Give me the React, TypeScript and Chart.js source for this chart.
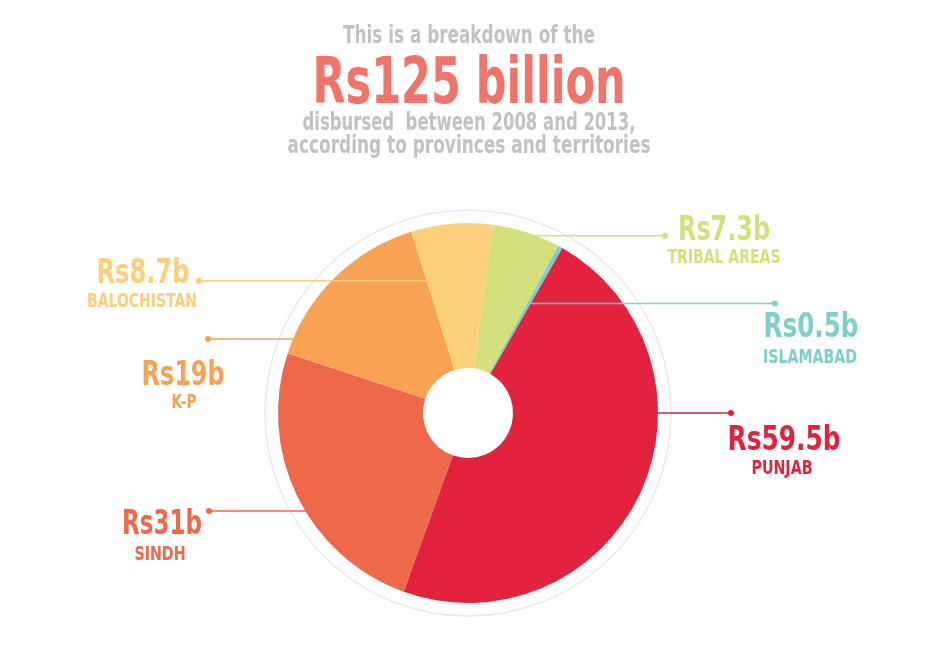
import React, { useEffect, useRef } from "react";
import { Chart, registerables } from "chart.js";

Chart.register(...registerables);

// ---- data ----
const regions = ["TRIBAL AREAS", "ISLAMABAD", "PUNJAB", "SINDH", "K-P", "BALOCHISTAN"];
const amounts = [7.3, 0.5, 59.5, 31, 19, 8.7];
const valueLabels = ["Rs7.3b", "Rs0.5b", "Rs59.5b", "Rs31b", "Rs19b", "Rs8.7b"];
const titleLines = [
  "This is a breakdown of the",
  "Rs125 billion",
  "disbursed  between 2008 and 2013,",
  "according to provinces and territories",
];

// ---- styles ----
const sliceColors = ["#D4E07C", "#7DCFC9", "#E3233E", "#EE694A", "#F7A353", "#FDD17C"];
const labelColors = ["#D4E07C", "#7ECFC9", "#E3233E", "#EE694A", "#F7A353", "#FCCF7A"];
const FONT = '"Liberation Sans Narrow", "DejaVu Sans Condensed", "Arial Narrow", sans-serif';

// ---- label layout (per slice, same order as data) ----
// anchor: fraction along the arc (t) and fraction of the radius (f)
const anchorT = [0.35, 0.5, 0.354, 0.246, 0.295, 0.47];
const anchorF = [0.965, 0.66, 0.9, 0.69, 0.69, 0.7];
const dotX = [665, 775, 731, 209, 208, 199];
const valueX = [724, 811, 784, 162, 183, 143];
const valueY = [240, 337, 450, 534, 385, 283];
const valueW = [92, 95, 113, 80, 83, 93];
const nameX = [724, 810, 782, 160, 184, 142];
const nameY = [263, 363, 474, 560, 408, 307];
const nameW = [113, 94, 61, 51, 25, 110];

const titleY = [43, 103, 130, 153];
const titleW = [252, 313, 333, 363];
const titleSize = [25, 64, 24, 24];
const titleColor = ["#C2C2C2", "#F1736A", "#C2C2C2", "#C2C2C2"];

function drawText(ctx: CanvasRenderingContext2D, text: string, x: number, y: number, size: number, color: string, width: number) {
  ctx.font = `bold ${size}px ${FONT}`;
  ctx.fillStyle = color;
  ctx.textAlign = "center";
  ctx.textBaseline = "alphabetic";
  const w = ctx.measureText(text).width;
  if (w > width) {
    ctx.save();
    ctx.translate(x, y);
    ctx.scale(width / w, 1);
    ctx.fillText(text, 0, 0);
    ctx.restore();
  } else {
    ctx.fillText(text, x, y);
  }
}

const overlayPlugin = {
  id: "overlay",
  beforeDatasetsDraw(chart: any) {
    const ctx = chart.ctx as CanvasRenderingContext2D;
    const arc = chart.getDatasetMeta(0).data[0];
    if (!arc) return;
    ctx.save();
    ctx.beginPath();
    ctx.arc(arc.x, arc.y, arc.outerRadius + 13, 0, Math.PI * 2);
    ctx.strokeStyle = "#EAEAEA";
    ctx.lineWidth = 1.5;
    ctx.stroke();
    ctx.restore();
  },
  afterDraw(chart: any) {
    const ctx = chart.ctx as CanvasRenderingContext2D;
    const meta = chart.getDatasetMeta(0);
    ctx.save();
    // titles
    titleLines.forEach((t, i) => drawText(ctx, t, 469, titleY[i], titleSize[i], titleColor[i], titleW[i]));
    meta.data.forEach((a: any, i: number) => {
      const ang = a.startAngle + anchorT[i] * (a.endAngle - a.startAngle);
      const r = a.outerRadius * anchorF[i];
      const ax = a.x + Math.cos(ang) * r;
      const ay = a.y + Math.sin(ang) * r;
      ctx.strokeStyle = labelColors[i];
      ctx.lineWidth = 1.5;
      ctx.beginPath();
      ctx.moveTo(ax, ay);
      ctx.lineTo(dotX[i], ay);
      ctx.stroke();
      ctx.fillStyle = labelColors[i];
      ctx.beginPath();
      ctx.arc(dotX[i], ay, 3, 0, Math.PI * 2);
      ctx.fill();
      drawText(ctx, valueLabels[i], valueX[i], valueY[i], 34, labelColors[i], valueW[i]);
      drawText(ctx, regions[i], nameX[i], nameY[i], 19, labelColors[i], nameW[i]);
    });
    ctx.restore();
  },
};

export default function App() {
  const ref = useRef<HTMLCanvasElement | null>(null);
  useEffect(() => {
    document.body.style.margin = "0";
    const canvas = ref.current;
    if (!canvas) return;
    const chart = new Chart(canvas, {
      type: "doughnut",
      data: {
        labels: regions,
        datasets: [
          {
            data: amounts,
            backgroundColor: sliceColors,
            borderWidth: 0,
            hoverOffset: 0,
          },
        ],
      },
      options: {
        responsive: false,
        animation: false,
        rotation: 7.5,
        cutout: "23.7%",
        layout: { padding: { top: 223, bottom: 50, left: 278, right: 287 } },
        plugins: { legend: { display: false }, tooltip: { enabled: false } },
        events: [],
      },
      plugins: [overlayPlugin],
    });
    return () => chart.destroy();
  }, []);
  return (
    <div style={{ position: "absolute", left: 0, top: 0, width: 945, height: 653, background: "#fff" }}>
      <canvas ref={ref} width={945} height={653} style={{ display: "block" }} />
    </div>
  );
}
